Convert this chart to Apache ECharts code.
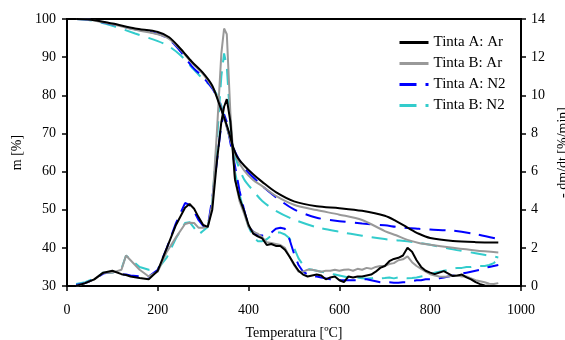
<!DOCTYPE html>
<html><head><meta charset="utf-8">
<script src="https://cdn.jsdelivr.net/npm/echarts@6/dist/echarts.min.js"></script>
<style>html,body{margin:0;padding:0;background:#fff}#c{width:565px;height:340px}</style>
</head><body><div id="c"></div>
<script>
const seriesNames = ['Tinta A: Ar', 'Tinta B: Ar', 'Tinta A: N2', 'Tinta B: N2'];

// TG curves (m [%]) vs temperature
const tgTemp = [20,50,100,150,200,225,250,275,300,320,335,345,355,365,375,390,410,430,460,500,550,600,650,700,725,750,775,800,850,900,950];
const tgA_Ar = [100,99.9,98.8,97.5,96.6,95.2,92.2,88.8,85.8,82.5,77.8,74.5,71,66.8,63.8,61.6,59.3,57.3,54.6,52.2,50.9,50.4,49.7,48.4,47,45.3,43.7,42.6,41.8,41.5,41.4];
const tgB_Ar = [100,99.8,98.6,97.2,96,94.8,92,88.5,85.5,82.2,78.3,74.5,70.3,66.3,63.3,60.3,57.8,56.2,53.6,51.3,49.9,48.7,47.3,44.4,43.3,42.1,41.3,40.8,40,39.3,38.8];
const tgA_N2 = [100,99.8,98.6,97.3,96.1,94.6,91.5,87.6,84.7,81.8,78.3,74.5,70.5,66.6,64,61,58.5,56.2,53.3,50.1,47.9,47,46.4,45.9,45.5,45.2,45,44.8,44.5,43.6,42.3];
const tgB_N2 = [100,99.7,98.2,96.2,94.2,92.8,90.5,87.3,84.2,82,79,75,70.5,66,62.3,58,55,52.3,49.7,47.4,45.4,44.2,43.2,42.3,42,41.7,41.3,40.8,39.6,38.6,37.5];

// DTG curves (-dm/dt [%/min]) vs temperature
const dtgTemp = [20,40,60,80,100,120,130,140,160,180,200,220,240,260,270,280,290,300,310,320,330,340,346,352,360,370,380,390,400,410,420,430,440,450,460,470,480,490,500,
  510,520,530,540,550,560,570,580,590,600,610,620,630,640,650,660,670,680,690,700,710,720,730,740,750,760,770,780,790,800,810,820,830,840,850,860,870,880,890,900,910,920,930,940,950];
const dtgA_Ar = [0,0.15,0.35,0.7,0.8,0.62,0.58,0.5,0.42,0.35,0.8,2.0,3.2,4.1,4.3,4.05,3.6,3.2,3.1,4.0,6.5,8.6,9.4,9.8,8.6,5.6,4.6,3.95,3.2,2.75,2.6,2.5,2.15,2.2,2.1,2.1,1.9,1.55,1.15,
  0.8,0.6,0.5,0.55,0.6,0.55,0.35,0.45,0.5,0.3,0.2,0.5,0.45,0.5,0.5,0.55,0.6,0.75,0.95,1.05,1.3,1.42,1.48,1.6,2.0,1.8,1.35,1.0,0.8,0.7,0.62,0.7,0.78,0.65,0.52,0.55,0.6,0.45,0.35,0.2,0.1,0.03,0,0,0];
const dtgB_Ar = [0,0.15,0.35,0.7,0.7,0.85,1.6,1.35,0.85,0.5,0.75,1.8,2.55,3.25,3.32,3.3,3.05,3.05,3.1,4.3,8.0,12.2,13.5,13.2,9.0,5.6,4.45,3.8,3.1,2.85,2.75,2.55,2.3,2.25,2.2,2.15,2.0,1.55,1.1,
  0.75,0.75,0.85,0.85,0.8,0.75,0.8,0.8,0.85,0.8,0.85,0.87,0.8,0.9,0.85,0.95,0.9,1.0,1.05,1.05,1.15,1.2,1.35,1.4,1.55,1.25,1.05,0.9,0.75,0.62,0.55,0.5,0.48,0.5,0.55,0.55,0.5,0.5,0.4,0.3,0.25,0.2,0.12,0.1,0.15];
const dtgA_N2 = [0.05,0.15,0.35,0.65,0.75,0.6,0.6,0.55,0.5,0.5,0.85,2.0,3.3,4.35,4.25,3.9,3.45,3.15,3.1,4.6,6.5,8.5,9.0,8.6,7.5,6.3,5.0,4.0,3.1,2.85,2.67,2.65,2.67,2.8,3.0,3.05,3.0,2.45,1.7,
  1.1,0.75,0.6,0.5,0.5,0.45,0.4,0.35,0.35,0.3,0.3,0.3,0.3,0.3,0.35,0.35,0.3,0.25,0.2,0.2,0.2,0.17,0.17,0.2,0.2,0.25,0.3,0.3,0.35,0.35,0.35,0.4,0.45,0.5,0.55,0.6,0.65,0.7,0.75,0.8,0.85,0.95,1.0,1.05,1.1];
const dtgB_N2 = [0.1,0.2,0.4,0.7,0.7,0.9,1.6,1.4,1.0,0.85,0.9,1.5,2.5,3.3,3.35,3.05,2.7,2.9,3.1,4.4,7.5,11.0,12.2,11.5,8.5,6.0,4.8,3.9,3.1,2.6,2.35,2.35,2.45,2.65,2.8,2.8,2.7,2.5,2.0,
  1.45,1.1,0.9,0.85,0.8,0.75,0.7,0.65,0.6,0.55,0.5,0.45,0.4,0.45,0.4,0.38,0.4,0.45,0.4,0.42,0.45,0.4,0.45,0.42,0.4,0.42,0.45,0.5,0.55,0.6,0.7,0.75,0.8,0.85,0.9,0.95,0.95,1.0,1.0,1.05,1.05,1.05,1.1,1.2,1.45];

const zip = (xs, ys) => xs.map((x, i) => [x, ys[i]]);
const FONT = '"Liberation Serif", "Times New Roman", serif';
const styles = [
  {color: '#000000', type: 'solid'},
  {color: '#999999', type: 'solid'},
  {color: '#0000ff', type: [16, 9]},
  {color: '#33cccc', type: [16, 9]}
];
const tgs = [tgA_Ar, tgB_Ar, tgA_N2, tgB_N2];
const dtgs = [dtgA_Ar, dtgB_Ar, dtgA_N2, dtgB_N2];
const series = [];
seriesNames.forEach((n, i) => {
  series.push({name: n, type: 'line', yAxisIndex: 0, symbol: 'none', smooth: 0.3,
    data: zip(tgTemp, tgs[i]), lineStyle: {color: styles[i].color, type: styles[i].type, width: 2},
    itemStyle: {color: styles[i].color}, z: 10 - i});
  series.push({name: n, type: 'line', yAxisIndex: 1, symbol: 'none',
    data: zip(dtgTemp, dtgs[i]), lineStyle: {color: styles[i].color, type: styles[i].type, width: 2},
    itemStyle: {color: styles[i].color}, z: 10 - i});
});

const axisCommon = {
  axisLine: {show: true, lineStyle: {color: '#000', width: 2}},
  axisTick: {show: true, length: 5, lineStyle: {color: '#000', width: 1.5}},
  axisLabel: {color: '#000', fontFamily: FONT, fontSize: 14},
  splitLine: {show: false},
  nameTextStyle: {color: '#000', fontFamily: FONT, fontSize: 14}
};

const legendData = seriesNames.map((n, i) => ({
  name: n,
  itemStyle: {opacity: 0},
  lineStyle: {color: styles[i].color, width: 3, type: i < 2 ? 'solid' : [17, 9]}
}));

const chart = echarts.init(document.getElementById('c'), null, {renderer: 'canvas'});
chart.setOption({
  animation: false,
  backgroundColor: '#fff',
  grid: {left: 67, right: 44, top: 19, bottom: 54, outerBoundsMode: 'none', containLabel: false,
    show: true, borderColor: '#000', borderWidth: 2, backgroundColor: 'transparent'},
  legend: {
    data: legendData, orient: 'vertical', left: 393, top: 30,
    itemWidth: 29, itemHeight: 10, itemGap: 6,
    textStyle: {color: '#000', fontFamily: FONT, fontSize: 15, lineHeight: 14}
  },
  xAxis: Object.assign({}, axisCommon, {
    type: 'value', min: 0, max: 1000, interval: 200,
    name: 'Temperatura [ºC]', nameLocation: 'middle', nameGap: 40,
    axisLabel: Object.assign({}, axisCommon.axisLabel, {margin: 17, formatter: v => String(v)})
  }),
  yAxis: [
    Object.assign({}, axisCommon, {
      type: 'value', min: 30, max: 100, interval: 10, position: 'left',
      name: 'm [%]', nameLocation: 'middle', nameGap: 40, nameRotate: 90,
      axisLabel: Object.assign({}, axisCommon.axisLabel, {margin: 11})
    }),
    Object.assign({}, axisCommon, {
      type: 'value', min: 0, max: 14, interval: 2, position: 'right',
      name: '- dm/dt [%/min]', nameLocation: 'middle', nameGap: 32, nameRotate: 90,
      axisLabel: Object.assign({}, axisCommon.axisLabel, {margin: 10})
    })
  ],
  series: series
});
</script></body></html>
